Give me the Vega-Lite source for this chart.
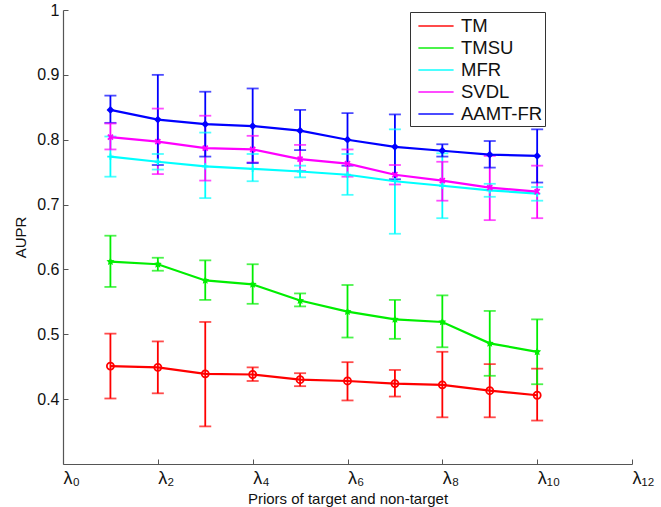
{
  "$schema": "https://vega.github.io/schema/vega-lite/v6.json",
  "width": 569,
  "height": 454,
  "autosize": "none",
  "padding": {"left": 63, "top": 10, "right": 29, "bottom": 43},
  "config": {
    "view": {"stroke": null},
    "font": "Liberation Sans",
    "axis": {"grid": false, "domainColor": "#555555", "tickColor": "#555555", "labelColor": "#111111", "titleColor": "#111111", "titleFontWeight": "normal", "domainWidth": 1.2}
  },
  "data": {
    "values": [
      {"series": "TM", "x": 1, "y": 0.451, "lo": 0.401, "hi": 0.501},
      {"series": "TM", "x": 2, "y": 0.449, "lo": 0.409, "hi": 0.489},
      {"series": "TM", "x": 3, "y": 0.439, "lo": 0.358, "hi": 0.519},
      {"series": "TM", "x": 4, "y": 0.438, "lo": 0.428, "hi": 0.449},
      {"series": "TM", "x": 5, "y": 0.430, "lo": 0.420, "hi": 0.440},
      {"series": "TM", "x": 6, "y": 0.428, "lo": 0.398, "hi": 0.457},
      {"series": "TM", "x": 7, "y": 0.424, "lo": 0.404, "hi": 0.445},
      {"series": "TM", "x": 8, "y": 0.422, "lo": 0.372, "hi": 0.473},
      {"series": "TM", "x": 9, "y": 0.413, "lo": 0.372, "hi": 0.454},
      {"series": "TM", "x": 10, "y": 0.406, "lo": 0.367, "hi": 0.447},
      {"series": "TMSU", "x": 1, "y": 0.612, "lo": 0.573, "hi": 0.652},
      {"series": "TMSU", "x": 2, "y": 0.608, "lo": 0.598, "hi": 0.618},
      {"series": "TMSU", "x": 3, "y": 0.583, "lo": 0.553, "hi": 0.614},
      {"series": "TMSU", "x": 4, "y": 0.577, "lo": 0.547, "hi": 0.608},
      {"series": "TMSU", "x": 5, "y": 0.552, "lo": 0.543, "hi": 0.563},
      {"series": "TMSU", "x": 6, "y": 0.535, "lo": 0.495, "hi": 0.576},
      {"series": "TMSU", "x": 7, "y": 0.523, "lo": 0.493, "hi": 0.553},
      {"series": "TMSU", "x": 8, "y": 0.519, "lo": 0.480, "hi": 0.560},
      {"series": "TMSU", "x": 9, "y": 0.486, "lo": 0.436, "hi": 0.536},
      {"series": "TMSU", "x": 10, "y": 0.473, "lo": 0.423, "hi": 0.523},
      {"series": "MFR", "x": 1, "y": 0.774, "lo": 0.743, "hi": 0.805},
      {"series": "MFR", "x": 2, "y": 0.766, "lo": 0.754, "hi": 0.778},
      {"series": "MFR", "x": 3, "y": 0.759, "lo": 0.710, "hi": 0.811},
      {"series": "MFR", "x": 4, "y": 0.755, "lo": 0.736, "hi": 0.778},
      {"series": "MFR", "x": 5, "y": 0.751, "lo": 0.742, "hi": 0.760},
      {"series": "MFR", "x": 6, "y": 0.746, "lo": 0.715, "hi": 0.778},
      {"series": "MFR", "x": 7, "y": 0.736, "lo": 0.655, "hi": 0.816},
      {"series": "MFR", "x": 8, "y": 0.729, "lo": 0.679, "hi": 0.779},
      {"series": "MFR", "x": 9, "y": 0.722, "lo": 0.712, "hi": 0.732},
      {"series": "MFR", "x": 10, "y": 0.717, "lo": 0.706, "hi": 0.727},
      {"series": "SVDL", "x": 1, "y": 0.804, "lo": 0.785, "hi": 0.825},
      {"series": "SVDL", "x": 2, "y": 0.797, "lo": 0.747, "hi": 0.848},
      {"series": "SVDL", "x": 3, "y": 0.787, "lo": 0.737, "hi": 0.837},
      {"series": "SVDL", "x": 4, "y": 0.785, "lo": 0.765, "hi": 0.806},
      {"series": "SVDL", "x": 5, "y": 0.770, "lo": 0.752, "hi": 0.792},
      {"series": "SVDL", "x": 6, "y": 0.763, "lo": 0.743, "hi": 0.785},
      {"series": "SVDL", "x": 7, "y": 0.746, "lo": 0.731, "hi": 0.761},
      {"series": "SVDL", "x": 8, "y": 0.737, "lo": 0.706, "hi": 0.766},
      {"series": "SVDL", "x": 9, "y": 0.726, "lo": 0.676, "hi": 0.775},
      {"series": "SVDL", "x": 10, "y": 0.720, "lo": 0.679, "hi": 0.760},
      {"series": "AAMT-FR", "x": 1, "y": 0.846, "lo": 0.826, "hi": 0.868},
      {"series": "AAMT-FR", "x": 2, "y": 0.831, "lo": 0.761, "hi": 0.900},
      {"series": "AAMT-FR", "x": 3, "y": 0.824, "lo": 0.774, "hi": 0.874},
      {"series": "AAMT-FR", "x": 4, "y": 0.821, "lo": 0.764, "hi": 0.879},
      {"series": "AAMT-FR", "x": 5, "y": 0.814, "lo": 0.784, "hi": 0.846},
      {"series": "AAMT-FR", "x": 6, "y": 0.800, "lo": 0.760, "hi": 0.841},
      {"series": "AAMT-FR", "x": 7, "y": 0.789, "lo": 0.739, "hi": 0.839},
      {"series": "AAMT-FR", "x": 8, "y": 0.783, "lo": 0.774, "hi": 0.793},
      {"series": "AAMT-FR", "x": 9, "y": 0.777, "lo": 0.757, "hi": 0.798},
      {"series": "AAMT-FR", "x": 10, "y": 0.775, "lo": 0.734, "hi": 0.816}
    ]
  },
  "encoding": {
    "x": {
      "field": "x", "type": "quantitative",
      "scale": {"domain": [0, 12], "nice": false, "zero": false},
      "axis": {
        "values": [0, 2, 4, 6, 8, 10, 12],
        "title": "Priors of target and non-target",
        "titleFontSize": 15, "titlePadding": 4,
        "labelFontSize": 18, "labelAlign": "left", "labelPadding": 10,
        "tickSize": -5,
        "labelExpr": "datum.value == 0 ? 'λ₀' : datum.value == 2 ? 'λ₂' : datum.value == 4 ? 'λ₄' : datum.value == 6 ? 'λ₆' : datum.value == 8 ? 'λ₈' : datum.value == 10 ? 'λ₁₀' : 'λ₁₂'"
      }
    },
    "y": {
      "field": "y", "type": "quantitative",
      "scale": {"domain": [0.3, 1], "nice": false, "zero": false},
      "axis": {
        "values": [0.4, 0.5, 0.6, 0.7, 0.8, 0.9, 1],
        "title": "AUPR",
        "titleFontSize": 15, "titlePadding": 8,
        "labelFontSize": 16, "labelPadding": 9,
        "tickSize": -5,
        "labelExpr": "datum.value == 1 ? '1' : format(datum.value, '.1f')"
      }
    },
    "color": {
      "field": "series", "type": "nominal",
      "scale": {"domain": ["TM", "TMSU", "MFR", "SVDL", "AAMT-FR"], "range": ["#ff0000", "#00ee00", "#00ffff", "#ff00ff", "#0000ff"]},
      "legend": {
        "title": null, "orient": "none", "legendX": 347, "legendY": 2,
        "symbolType": "M-1.6,0L1.6,0", "symbolSize": 484, "symbolStrokeWidth": 2, "symbolOffset": 12,
        "labelFontSize": 18.5, "labelColor": "#111111", "labelOffset": 13, "labelLimit": 300,
        "strokeColor": "#333333", "fillColor": "#ffffff", "padding": 2, "rowPadding": 0,
        "labelExpr": "datum.label + '\u00a0\u00a0\u00a0\u00a0\u00a0\u00a0\u00a0\u00a0'"
      }
    }
  },
  "layer": [
    {
      "mark": {"type": "rule", "strokeWidth": 1.8},
      "encoding": {"y": {"field": "lo", "type": "quantitative"}, "y2": {"field": "hi"}}
    },
    {
      "mark": {"type": "tick", "orient": "horizontal", "size": 12, "thickness": 1.8},
      "encoding": {"y": {"field": "lo", "type": "quantitative"}}
    },
    {
      "mark": {"type": "tick", "orient": "horizontal", "size": 12, "thickness": 1.8},
      "encoding": {"y": {"field": "hi", "type": "quantitative"}}
    },
    {
      "mark": {"type": "line", "strokeWidth": 2.2},
      "encoding": {}
    },
    {
      "transform": [{"filter": "datum.series == 'TM'"}],
      "mark": {"type": "point", "shape": "circle", "filled": false, "size": 50, "strokeWidth": 1.8, "opacity": 1},
      "encoding": {}
    },
    {
      "transform": [{"filter": "datum.series == 'TMSU'"}],
      "mark": {"type": "point", "shape": "M0,-1L0.29,-0.4L0.95,-0.31L0.47,0.15L0.59,0.81L0,0.5L-0.59,0.81L-0.47,0.15L-0.95,-0.31L-0.29,-0.4Z", "filled": true, "size": 70, "strokeWidth": 1, "opacity": 1},
      "encoding": {}
    },
    {
      "transform": [{"filter": "datum.series == 'MFR'"}],
      "mark": {"type": "point", "shape": "M-1,0L1,0M0,-1L0,1", "filled": false, "size": 40, "strokeWidth": 1.8, "opacity": 1},
      "encoding": {}
    },
    {
      "transform": [{"filter": "datum.series == 'SVDL'"}],
      "mark": {"type": "point", "shape": "M-0.8,-0.8L0.8,0.8M-0.8,0.8L0.8,-0.8", "filled": false, "size": 40, "strokeWidth": 1.8, "opacity": 1},
      "encoding": {}
    },
    {
      "transform": [{"filter": "datum.series == 'AAMT-FR'"}],
      "mark": {"type": "point", "shape": "diamond", "filled": true, "size": 60, "strokeWidth": 1, "opacity": 1},
      "encoding": {}
    }
  ]
}
